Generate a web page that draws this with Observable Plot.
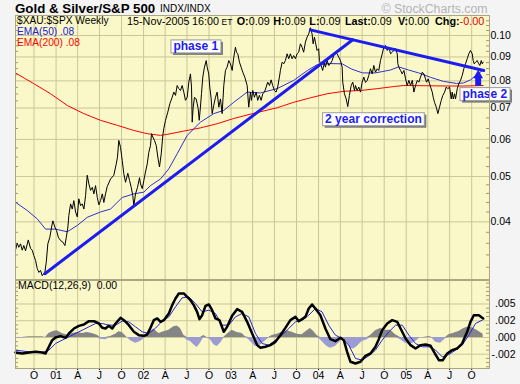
<!DOCTYPE html>
<html><head><meta charset="utf-8">
<script src="https://cdn.jsdelivr.net/npm/d3@7"></script>
<script src="https://cdn.jsdelivr.net/npm/@observablehq/plot@0.6"></script>
<style>
html,body{margin:0;padding:0;background:#f4f4f4;}
body{width:520px;height:384px;position:relative;overflow:hidden;font-family:"Liberation Sans",Arial,Helvetica,sans-serif;}
#price,#macd,#overlay{position:absolute;left:0;}
#price{top:0;} #macd{top:279px;} #overlay{top:0;pointer-events:none;}
</style></head><body>
<div id="price"></div>
<div id="macd"></div>
<svg id="overlay" width="520" height="384" font-family="'Liberation Sans', Arial, Helvetica, sans-serif">
  <text x="15" y="12.5" font-size="13.3" font-weight="bold">Gold &amp; Silver/S&amp;P 500</text>
  <text x="160" y="12" font-size="10">INDX/INDX</text>
  <text x="381.5" y="13" font-size="12.3" fill="#b4b4b4">© StockCharts.com</text>
  <text x="17" y="24" font-size="10.2">$XAU:$SPX Weekly</text>
  <text y="24.5" font-size="10.8"><tspan x="127">15-Nov-2005</tspan><tspan x="192">16:00</tspan><tspan x="221.5" font-size="8.5">ET</tspan><tspan x="236.7" font-weight="bold">O:</tspan><tspan>0.09</tspan><tspan x="273.3" font-weight="bold">H:</tspan><tspan>0.09</tspan><tspan x="309.3" font-weight="bold">L:</tspan><tspan>0.09</tspan><tspan x="345" font-weight="bold">Last:</tspan><tspan>0.09</tspan><tspan x="398" font-weight="bold">V:</tspan><tspan>0.00</tspan><tspan x="435" font-weight="bold">Chg:</tspan><tspan fill="#e00000">-0.00</tspan></text>
  <text x="17" y="34.5" font-size="10.2" fill="#2020e0">EMA(50) .08</text>
  <text x="17" y="45.5" font-size="10.2" fill="#ff0000">EMA(200) .08</text>
  <text x="18" y="289" font-size="10.5" xml:space="preserve">MACD(12,26,9)  0.00</text>
</svg>
<script>
// ---------- DATA (decimal year, value) ----------
const gsRatio = [
[2000.537,0.0348],[2000.557,0.0360],[2000.575,0.0353],[2000.595,0.0359],[2000.614,0.0348],[2000.632,0.0356],[2000.652,0.0347],[2000.683,0.0366],[2000.709,0.0351],[2000.728,0.0348],
[2000.746,0.0339],[2000.766,0.0331],[2000.785,0.0318],[2000.804,0.0312],[2000.823,0.0315],[2000.842,0.0307],[2000.872,0.0312],[2000.888,0.0328],[2000.906,0.0359],[2000.929,0.0371],
[2000.949,0.0390],[2000.963,0.0402],[2000.986,0.0390],[2001.006,0.0383],[2001.025,0.0371],[2001.051,0.0365],[2001.078,0.0362],[2001.101,0.0356],[2001.117,0.0371],[2001.135,0.0390],
[2001.146,0.0413],[2001.166,0.0437],[2001.185,0.0426],[2001.203,0.0444],[2001.223,0.0420],[2001.242,0.0410],[2001.260,0.0448],[2001.280,0.0433],[2001.299,0.0437],[2001.318,0.0426],
[2001.337,0.0455],[2001.356,0.0503],[2001.375,0.0482],[2001.394,0.0467],[2001.414,0.0474],[2001.432,0.0459],[2001.451,0.0478],[2001.471,0.0451],[2001.489,0.0435],[2001.508,0.0444],
[2001.528,0.0459],[2001.546,0.0440],[2001.565,0.0459],[2001.585,0.0476],[2001.623,0.0494],[2001.660,0.0503],[2001.688,0.0532],[2001.702,0.0550],[2001.717,0.0597],[2001.737,0.0577],
[2001.756,0.0541],[2001.774,0.0507],[2001.794,0.0486],[2001.820,0.0508],[2001.840,0.0490],[2001.859,0.0474],[2001.877,0.0455],[2001.889,0.0433],[2001.908,0.0459],[2001.931,0.0474],
[2001.954,0.0497],[2001.965,0.0482],[2001.985,0.0471],[2002.003,0.0490],[2002.022,0.0511],[2002.042,0.0532],[2002.060,0.0563],[2002.079,0.0582],[2002.091,0.0617],[2002.106,0.0607],
[2002.125,0.0597],[2002.145,0.0582],[2002.163,0.0550],[2002.182,0.0524],[2002.202,0.0559],[2002.220,0.0612],[2002.231,0.0632],[2002.251,0.0659],[2002.277,0.0686],[2002.300,0.0715],
[2002.327,0.0738],[2002.346,0.0757],[2002.365,0.0745],[2002.384,0.0782],[2002.403,0.0770],[2002.422,0.0763],[2002.441,0.0782],[2002.460,0.0757],[2002.479,0.0727],[2002.499,0.0738],
[2002.517,0.0795],[2002.536,0.0828],[2002.548,0.0776],[2002.556,0.0653],[2002.567,0.0703],[2002.582,0.0738],[2002.601,0.0732],[2002.613,0.0715],[2002.624,0.0698],[2002.636,0.0659],
[2002.650,0.0703],[2002.662,0.0751],[2002.677,0.0815],[2002.696,0.0856],[2002.716,0.0884],[2002.727,0.0856],[2002.745,0.0828],[2002.757,0.0776],[2002.773,0.0732],[2002.784,0.0681],
[2002.802,0.0709],[2002.822,0.0738],[2002.841,0.0757],[2002.860,0.0703],[2002.879,0.0732],[2002.898,0.0681],[2002.917,0.0782],[2002.936,0.0842],[2002.955,0.0856],[2002.974,0.0884],
[2002.993,0.0870],[2003.013,0.0842],[2003.031,0.0899],[2003.050,0.0944],[2003.062,0.0921],[2003.077,0.0914],[2003.096,0.0877],[2003.115,0.0856],[2003.134,0.0835],[2003.157,0.0815],
[2003.184,0.0782],[2003.202,0.0703],[2003.222,0.0757],[2003.233,0.0727],[2003.248,0.0763],[2003.267,0.0738],[2003.287,0.0757],[2003.305,0.0727],[2003.324,0.0745],[2003.344,0.0727],
[2003.362,0.0751],[2003.382,0.0757],[2003.401,0.0776],[2003.419,0.0795],[2003.439,0.0782],[2003.458,0.0804],[2003.476,0.0782],[2003.496,0.0763],[2003.515,0.0757],[2003.533,0.0776],
[2003.553,0.0815],[2003.564,0.0842],[2003.584,0.0877],[2003.602,0.0870],[2003.621,0.0884],[2003.641,0.0914],[2003.659,0.0892],[2003.678,0.0914],[2003.698,0.0892],[2003.716,0.0906],
[2003.736,0.0892],[2003.755,0.0914],[2003.773,0.0921],[2003.793,0.0960],[2003.812,0.0944],[2003.830,0.0921],[2003.850,0.0968],[2003.869,0.0992],[2003.888,0.1008],[2003.907,0.1039],
[2003.926,0.1008],[2003.938,0.0960],[2003.953,0.0992],[2003.964,0.0968],[2003.983,0.0929],[2004.002,0.0937],[2004.010,0.0884],[2004.029,0.0863],[2004.047,0.0842],[2004.067,0.0877],
[2004.078,0.0856],[2004.098,0.0884],[2004.116,0.0863],[2004.135,0.0870],[2004.155,0.0884],[2004.173,0.0906],[2004.192,0.0921],[2004.212,0.0914],[2004.230,0.0899],[2004.250,0.0884],
[2004.269,0.0856],[2004.276,0.0795],[2004.295,0.0751],[2004.315,0.0732],[2004.333,0.0705],[2004.352,0.0745],[2004.372,0.0782],[2004.390,0.0795],[2004.410,0.0763],[2004.421,0.0782],
[2004.440,0.0763],[2004.459,0.0776],[2004.478,0.0757],[2004.497,0.0795],[2004.516,0.0815],[2004.535,0.0794],[2004.555,0.0802],[2004.573,0.0822],[2004.592,0.0849],[2004.612,0.0828],
[2004.630,0.0863],[2004.649,0.0835],[2004.669,0.0849],[2004.687,0.0842],[2004.706,0.0884],[2004.726,0.0914],[2004.744,0.0944],[2004.764,0.0952],[2004.783,0.0929],[2004.801,0.0944],
[2004.821,0.0914],[2004.840,0.0921],[2004.858,0.0929],[2004.878,0.0937],[2004.897,0.0914],[2004.904,0.0870],[2004.915,0.0856],[2004.935,0.0842],[2004.954,0.0828],[2004.973,0.0842],
[2004.992,0.0808],[2005.011,0.0782],[2005.030,0.0802],[2005.049,0.0782],[2005.069,0.0802],[2005.087,0.0757],[2005.106,0.0782],[2005.126,0.0802],[2005.144,0.0795],[2005.163,0.0815],
[2005.183,0.0835],[2005.201,0.0828],[2005.220,0.0808],[2005.232,0.0795],[2005.251,0.0808],[2005.266,0.0789],[2005.278,0.0776],[2005.297,0.0757],[2005.308,0.0738],[2005.323,0.0720],
[2005.343,0.0703],[2005.361,0.0681],[2005.380,0.0703],[2005.400,0.0727],[2005.418,0.0745],[2005.438,0.0757],[2005.457,0.0776],[2005.475,0.0770],[2005.495,0.0776],[2005.514,0.0732],
[2005.525,0.0757],[2005.537,0.0732],[2005.552,0.0751],[2005.563,0.0732],[2005.583,0.0770],[2005.601,0.0789],[2005.620,0.0802],[2005.640,0.0822],[2005.658,0.0849],[2005.677,0.0870],
[2005.697,0.0892],[2005.715,0.0914],[2005.734,0.0929],[2005.754,0.0914],[2005.765,0.0884],[2005.777,0.0870],[2005.792,0.0877],[2005.811,0.0884],[2005.829,0.0870],[2005.841,0.0863],
[2005.857,0.0884],[2005.868,0.0870],[2005.879,0.0877]
];
const ema50 = [
[2000.541,0.0440],[2000.671,0.0423],[2000.785,0.0406],[2000.880,0.0386],[2000.994,0.0386],[2001.128,0.0381],[2001.242,0.0393],[2001.356,0.0409],[2001.508,0.0420],[2001.623,0.0426],
[2001.756,0.0451],[2001.889,0.0459],[2002.003,0.0463],[2002.079,0.0478],[2002.194,0.0494],[2002.288,0.0519],[2002.384,0.0559],[2002.499,0.0612],[2002.650,0.0653],[2002.802,0.0681],
[2002.917,0.0692],[2003.031,0.0720],[2003.184,0.0757],[2003.336,0.0754],[2003.527,0.0770],[2003.716,0.0802],[2003.873,0.0842],[2003.987,0.0867],[2004.135,0.0871],[2004.269,0.0870],
[2004.375,0.0848],[2004.501,0.0832],[2004.649,0.0832],[2004.821,0.0844],[2004.912,0.0857],[2005.026,0.0844],[2005.141,0.0832],[2005.278,0.0814],[2005.426,0.0798],[2005.575,0.0790],
[2005.655,0.0792],[2005.734,0.0804],[2005.811,0.0826],[2005.879,0.0844]
];
const ema200 = [
[2000.541,0.0831],[2000.746,0.0789],[2000.937,0.0751],[2001.128,0.0709],[2001.318,0.0681],[2001.508,0.0659],[2001.699,0.0643],[2001.889,0.0627],[2002.042,0.0617],[2002.194,0.0612],
[2002.270,0.0615],[2002.460,0.0625],[2002.650,0.0635],[2002.841,0.0648],[2003.031,0.0665],[2003.259,0.0682],[2003.527,0.0701],[2003.716,0.0720],[2003.907,0.0736],[2004.098,0.0751],
[2004.287,0.0760],[2004.478,0.0763],[2004.669,0.0770],[2004.858,0.0778],[2004.973,0.0782],[2005.240,0.0781],[2005.468,0.0780],[2005.658,0.0780],[2005.879,0.0782]
];
// trend lines drawn on the chart (endpoints: decimal year, ratio)
const trendPhase1 = [[2000.872,0.0310],[2004.390,0.0979]];
const trendCorrection = [[2003.907,0.1028],[2005.886,0.0842]];
// annotations
const noteText = ["phase 1","2 year correction","phase 2"];
const noteT = [2002.597, 2004.626, 2005.898];
const noteV = [0.0947, 0.0662, 0.0749];
const arrowT = [2005.822], arrowFrom = [0.0779], arrowTo = [0.0814], arrowHead = [0.0822];

// MACD(12,26,9) values in thousandths
const macdLine = [
[2000.537,-2.24],[2000.614,-2.39],[2000.690,-2.24],[2000.766,-2.14],[2000.842,-2.24],[2000.880,-2.39],[2000.918,-1.39],[2000.956,-0.40],[2000.994,0.00],[2001.051,0.20],
[2001.109,-0.05],[2001.147,0.60],[2001.204,1.34],[2001.261,1.74],[2001.318,1.94],[2001.375,2.44],[2001.432,2.44],[2001.489,2.09],[2001.527,1.44],[2001.565,1.34],
[2001.603,1.74],[2001.642,1.34],[2001.680,2.09],[2001.737,2.94],[2001.775,2.59],[2001.832,1.84],[2001.889,0.85],[2001.946,0.35],[2002.003,0.25],[2002.041,0.45],
[2002.079,1.44],[2002.117,2.59],[2002.156,2.84],[2002.194,2.34],[2002.232,2.59],[2002.289,3.58],[2002.327,4.83],[2002.365,5.82],[2002.403,6.57],[2002.460,6.57],
[2002.498,6.07],[2002.536,5.57],[2002.574,4.83],[2002.612,3.83],[2002.639,2.74],[2002.670,3.33],[2002.708,4.73],[2002.746,4.93],[2002.784,4.08],[2002.822,2.84],
[2002.867,2.59],[2002.917,0.85],[2002.955,1.59],[2003.012,3.23],[2003.069,4.23],[2003.126,3.83],[2003.184,2.34],[2003.241,0.60],[2003.298,-1.14],[2003.336,-1.54],
[2003.393,-1.39],[2003.450,-1.14],[2003.507,-0.65],[2003.564,0.35],[2003.621,1.44],[2003.678,2.59],[2003.736,3.08],[2003.774,2.44],[2003.812,2.74],[2003.850,3.08],
[2003.888,4.33],[2003.926,4.93],[2003.964,4.33],[2004.021,3.33],[2004.078,1.34],[2004.135,-0.25],[2004.192,-0.55],[2004.250,-0.05],[2004.288,-0.40],[2004.326,-2.14],
[2004.364,-3.63],[2004.421,-3.88],[2004.478,-3.63],[2004.535,-2.74],[2004.592,-2.39],[2004.649,-1.39],[2004.687,-0.25],[2004.725,1.09],[2004.783,2.09],[2004.840,2.59],
[2004.897,2.34],[2004.935,1.34],[2004.992,-0.15],[2005.049,-1.14],[2005.106,-1.64],[2005.163,-1.14],[2005.221,-1.04],[2005.278,-1.24],[2005.327,-2.39],[2005.373,-3.38],
[2005.418,-3.38],[2005.468,-2.39],[2005.525,-1.89],[2005.582,-1.64],[2005.639,-0.90],[2005.696,0.85],[2005.734,2.34],[2005.772,3.33],[2005.830,3.33],[2005.879,2.84]
];
const signalLine = [
[2000.537,-1.89],[2000.690,-2.14],[2000.842,-2.24],[2000.918,-1.89],[2000.994,-0.90],[2001.070,-0.40],[2001.147,0.10],[2001.223,0.60],[2001.299,1.09],[2001.375,1.59],
[2001.451,2.09],[2001.527,2.09],[2001.603,1.84],[2001.680,1.84],[2001.756,2.44],[2001.832,2.34],[2001.908,1.59],[2001.984,0.85],[2002.060,0.60],[2002.137,1.40],
[2002.213,2.44],[2002.289,3.08],[2002.365,4.58],[2002.441,5.92],[2002.517,6.07],[2002.593,5.07],[2002.670,3.83],[2002.746,4.08],[2002.822,3.58],[2002.898,1.84],
[2002.974,1.84],[2003.050,3.08],[2003.126,3.58],[2003.203,3.08],[2003.279,0.60],[2003.355,-0.90],[2003.431,-1.14],[2003.507,-0.40],[2003.583,0.35],[2003.660,1.34],
[2003.736,2.34],[2003.812,2.59],[2003.888,3.33],[2003.964,4.33],[2004.040,3.83],[2004.116,1.84],[2004.192,0.35],[2004.269,-0.15],[2004.345,-1.14],[2004.421,-3.13],
[2004.497,-3.38],[2004.573,-2.74],[2004.649,-1.89],[2004.725,-0.40],[2004.802,0.85],[2004.878,1.84],[2004.954,1.84],[2005.030,0.35],[2005.106,-0.90],[2005.182,-1.39],
[2005.259,-1.39],[2005.335,-1.89],[2005.411,-2.89],[2005.487,-2.54],[2005.563,-1.89],[2005.639,-1.14],[2005.715,0.35],[2005.792,2.09],[2005.868,2.59]
];
const histT = [2000.537,2000.614,2000.690,2000.766,2000.842,2000.880,2000.918,2000.975,2001.013,2001.070,
2001.128,2001.185,2001.242,2001.299,2001.356,2001.413,2001.470,2001.508,2001.565,2001.622,
2001.680,2001.718,2001.756,2001.813,2001.851,2001.908,2001.965,2002.022,2002.079,2002.117,
2002.175,2002.232,2002.289,2002.346,2002.384,2002.422,2002.460,2002.498,2002.536,2002.574,
2002.612,2002.650,2002.689,2002.727,2002.765,2002.803,2002.841,2002.879,2002.917,2002.955,
2003.012,2003.069,2003.126,2003.165,2003.203,2003.241,2003.279,2003.317,2003.374,2003.431,
2003.469,2003.526,2003.583,2003.640,2003.698,2003.755,2003.812,2003.869,2003.907,2003.945,
2003.983,2004.021,2004.059,2004.097,2004.135,2004.192,2004.250,2004.288,2004.326,2004.364,
2004.402,2004.440,2004.497,2004.554,2004.592,2004.649,2004.706,2004.764,2004.821,2004.878,
2004.935,2004.992,2005.049,2005.106,2005.163,2005.201,2005.259,2005.297,2005.335,2005.392,
2005.449,2005.487,2005.544,2005.601,2005.658,2005.715,2005.772,2005.830,2005.879];
const histV = [-0.1,-0.1,0.1,0.1,0.1,0,0.6,0.95,1.0,0.6,
0.35,0.6,0.75,0.6,0.75,0.6,0.35,-0.25,-0.35,0.15,
0.5,0.85,0.75,0,-0.5,-0.85,-0.6,0.3,0.85,1.25,
0.6,0.85,1.1,1.6,1.7,1.35,0.35,-0.4,-0.6,-1.1,
-1.5,-0.85,0.3,-0.1,-0.35,-1.1,-1.35,-0.85,-0.1,0.5,
1.1,0.75,0.6,0.1,-0.35,-0.85,-1.35,-1.35,-0.7,-0.1,
0.3,0.5,0.8,1.0,0.8,0.5,0.4,1.0,1.35,0.9,
0.3,-0.35,-0.85,-1.35,-1.6,-1.35,-0.6,-0.1,-0.85,-1.6,
-1.7,-1.35,-0.6,-0.35,0.3,1.0,1.35,1.1,1.1,0.4,
-0.35,-0.85,-1.1,-0.6,0,-0.1,0.15,-0.1,-0.7,-0.85,
-0.2,0.4,0.65,0.9,1.35,1.6,1.35,0.9,0.5];

// axes
const quarterDates = ["2000-10-01","2001-01-01","2001-04-01","2001-07-01","2001-10-01","2002-01-01","2002-04-01","2002-07-01","2002-10-01","2003-01-01","2003-04-01","2003-07-01","2003-10-01","2004-01-01","2004-04-01","2004-07-01","2004-10-01","2005-01-01","2005-04-01","2005-07-01","2005-10-01"];
const quarterLabels = ["O","01","A","J","O","02","A","J","O","03","A","J","O","04","A","J","O","05","A","J","O"];
const priceTicks = [0.04,0.05,0.06,0.07,0.08,0.09,0.10];
const priceTickLabels = ["0.04","0.05","0.06","0.07","0.08","0.09","0.10"];
const priceMinor = [0.032,0.034,0.036,0.038,0.042,0.044,0.046,0.048,0.0525,0.055,0.0575,0.0633,0.0667,0.0725,0.075,0.0775,0.0825,0.085,0.0875,0.0925,0.095,0.0975,0.1025,0.105,0.1075];
const macdTicks = [0.005,0.0025,0,-0.0025];
const macdTickLabels = [".005",".002",".000","-.002"];
const macdMinor = [-0.004375,-0.00375,-0.003125,-0.001875,-0.00125,-0.000625,0.000625,0.00125,0.001875,0.003125,0.00375,0.004375,0.005625,0.00625,0.006875,0.0075,0.008125];
const timeSpan = [2000.5374, 2005.9514];
const priceDomain = [0.03013, 0.11033];
const macdDomain = [-0.00463, 0.00851];

// ---------- helpers ----------
const toDate = t => { const y = Math.floor(t); const a = Date.UTC(y,0,1), b = Date.UTC(y+1,0,1); return new Date(a + (t - y) * (b - a)); };
const rows = arr => arr.map(([t, v]) => ({date: toDate(t), v}));
const FONT = '"Liberation Sans", Arial, Helvetica, sans-serif';
const BG = "#faf8c8", GRID = "#cbc697", FRAME = "#aaa67e", TICK = "#9e9a74";
const BLUE = "#1c1cf0";
const xDomain = timeSpan.map(toDate);
const qDates = quarterDates.map(s => new Date(s + "T00:00:00Z"));
const qLabel = new Map(qDates.map((d, i) => [+d, quarterLabels[i]]));
const pLabel = new Map(priceTicks.map((d, i) => [d, priceTickLabels[i]]));

const notes = noteText.map((text, i) => ({text, date: toDate(noteT[i]), v: noteV[i]}));
const arrow = arrowT.map((t, i) => ({date: toDate(t), y1: arrowFrom[i], y2: arrowTo[i], head: arrowHead[i]}));

const pricePlot = Plot.plot({
  width: 520, height: 280,
  marginTop: 15, marginBottom: 1, marginLeft: 15, marginRight: 31,
  style: {background: "transparent", fontFamily: FONT, fontSize: "10.5px", color: "#000", overflow: "visible"},
  x: {type: "utc", domain: xDomain, axis: null},
  y: {type: "log", domain: priceDomain},
  marks: [
    Plot.frame({fill: BG, stroke: null}),
    Plot.ruleX(qDates, {stroke: GRID}),
    Plot.ruleY(priceTicks, {stroke: GRID}),
    Plot.ruleY(priceMinor, {stroke: TICK, insetRight: 471}),
    Plot.ruleY(priceMinor, {stroke: TICK, insetLeft: 471}),
    Plot.axisY({anchor: "right", ticks: priceTicks, tickSize: 0, tickPadding: 1, tickFormat: d => pLabel.get(d), label: null}),
    Plot.line(rows(ema200), {x: "date", y: "v", stroke: "#ff0000", strokeWidth: 1}),
    Plot.line(rows(ema50), {x: "date", y: "v", stroke: "#3030d0", strokeWidth: 1}),
    Plot.line(rows(gsRatio), {x: "date", y: "v", stroke: "#000", strokeWidth: 1}),
    Plot.line(rows(trendPhase1), {x: "date", y: "v", stroke: BLUE, strokeWidth: 3}),
    Plot.line(rows(trendCorrection), {x: "date", y: "v", stroke: BLUE, strokeWidth: 3}),
    Plot.ruleX(arrow, {x: "date", y1: "y1", y2: "y2", stroke: BLUE, strokeWidth: 6}),
    Plot.dot(arrow, {x: "date", y: "head", symbol: "triangle", r: 3.6, fill: BLUE, stroke: null}),
    Plot.text(notes, {x: "date", y: "v", text: "text", fill: BLUE, fontWeight: "bold", fontSize: 12}),
    Plot.frame({stroke: FRAME})
  ]
});
document.getElementById("price").append(pricePlot);

// white label boxes with drop shadow behind the annotation texts
const NS = "http://www.w3.org/2000/svg";
pricePlot.querySelectorAll("text").forEach(t => {
  if (!noteText.includes(t.textContent)) return;
  const b = t.getBBox();
  const tr = t.getAttribute("transform");
  const mk = (dx, dy, fill, stroke) => {
    const r = document.createElementNS(NS, "rect");
    r.setAttribute("x", b.x - 2.5 + dx); r.setAttribute("y", b.y + 0.5 + dy);
    r.setAttribute("width", b.width + 5); r.setAttribute("height", b.height - 1);
    r.setAttribute("fill", fill);
    if (stroke) { r.setAttribute("stroke", stroke); r.setAttribute("stroke-width", 1); }
    if (tr) r.setAttribute("transform", tr);
    return r;
  };
  t.parentNode.insertBefore(mk(2, 2, "#7a7a7a"), t);
  t.parentNode.insertBefore(mk(0, 0, "#ffffff", "#9a9a9a"), t);
});

const milli = arr => arr.map(([t, v]) => ({date: toDate(t), v: v / 1000}));
const hist = histT.map((t, i) => ({date: toDate(t), v: histV[i] / 1000}));

const macdPlot = Plot.plot({
  width: 520, height: 105,
  marginTop: 1, marginBottom: 16, marginLeft: 15, marginRight: 31,
  style: {background: "transparent", fontFamily: FONT, fontSize: "10.5px", color: "#000", overflow: "visible"},
  x: {type: "utc", domain: xDomain},
  y: {domain: macdDomain, axis: null},
  marks: [
    Plot.frame({fill: BG, stroke: null}),
    Plot.ruleX(qDates, {stroke: GRID}),
    Plot.ruleY(macdTicks, {stroke: GRID}),
    Plot.ruleY(macdMinor, {stroke: TICK, insetRight: 471}),
    Plot.ruleY(macdMinor, {stroke: TICK, insetLeft: 471}),
    Plot.areaY(hist, {x: "date", y: d => Math.max(0, d.v), fill: "#858585"}),
    Plot.areaY(hist, {x: "date", y: d => Math.min(0, d.v), fill: "#9c9cd2"}),
    Plot.line(milli(signalLine), {x: "date", y: "v", stroke: "#2424e0", strokeWidth: 1}),
    Plot.line(milli(macdLine), {x: "date", y: "v", stroke: "#000", strokeWidth: 2.5}),
    Plot.text(macdTicks, {y: d => d, text: (d, i) => macdTickLabels[i], frameAnchor: "right", textAnchor: "end", dx: 26}),
    Plot.axisX({anchor: "bottom", ticks: qDates, tickSize: 2, tickPadding: 1, tickFormat: d => qLabel.get(+d), label: null}),
    Plot.frame({stroke: FRAME})
  ]
});
document.getElementById("macd").append(macdPlot);
</script>
</body></html>
